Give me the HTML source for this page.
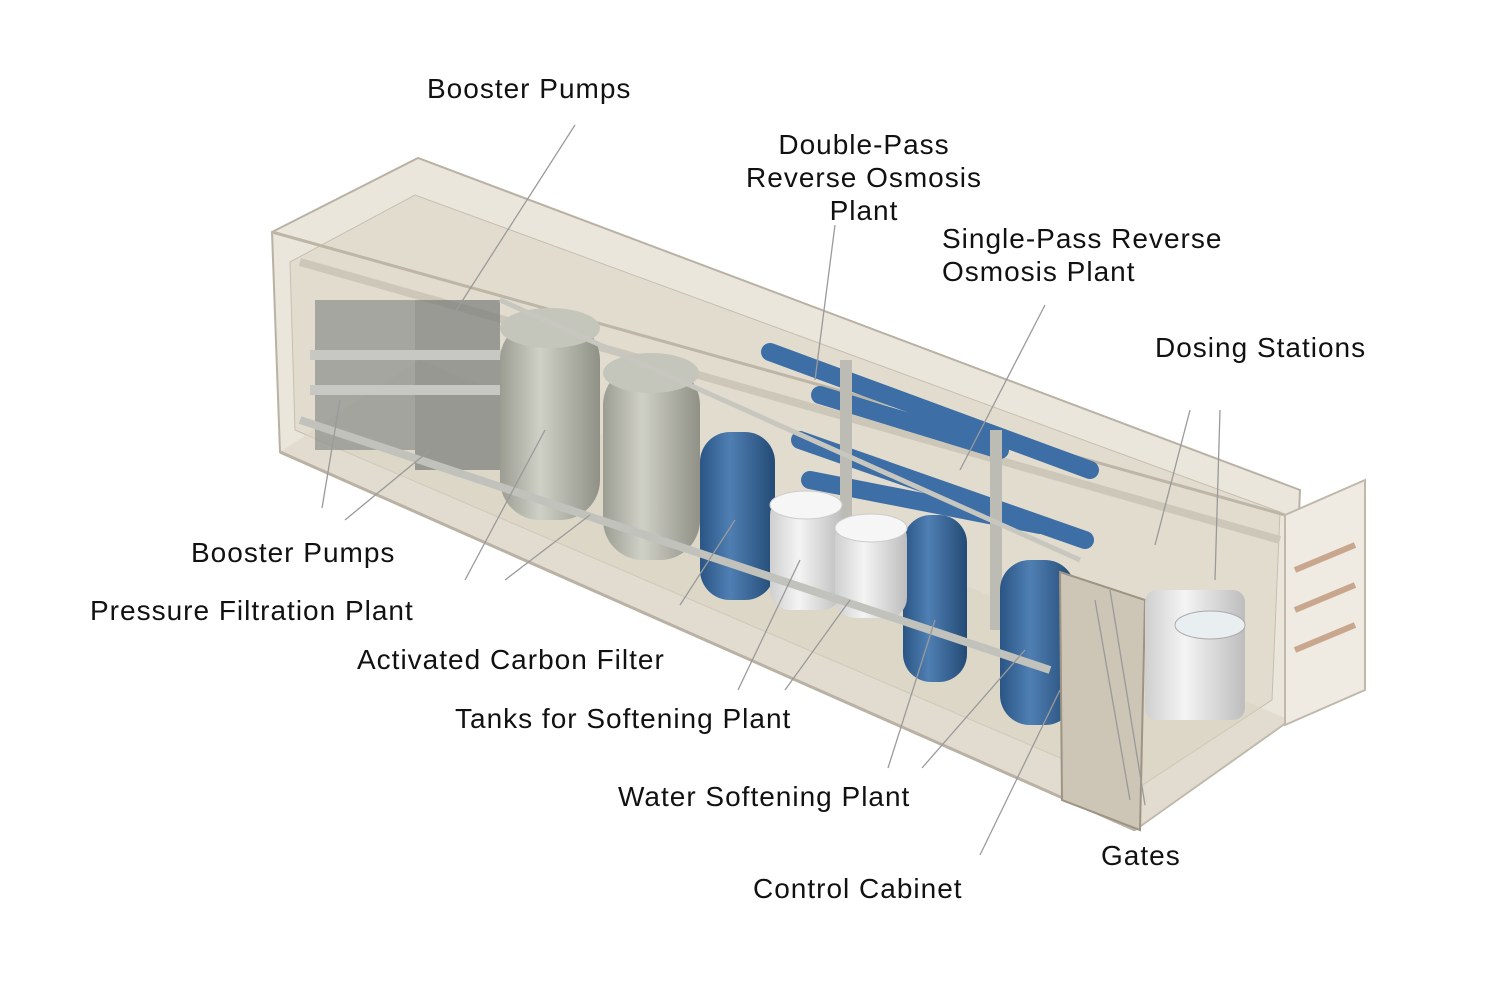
<!DOCTYPE html>
<html><head><meta charset="utf-8"><style>
html,body{margin:0;padding:0;background:#fff;}
body{width:1500px;height:1000px;overflow:hidden;position:relative;font-family:"Liberation Sans",sans-serif;}
.l{position:absolute;font-size:28px;letter-spacing:1px;color:#111;white-space:nowrap;line-height:33px;}
svg{position:absolute;left:0;top:0;}
</style></head><body>
<svg width="1500" height="1000" viewBox="0 0 1500 1000">
<defs>
<linearGradient id="gr" x1="0" x2="1"><stop offset="0" stop-color="#9c9d92"/><stop offset="0.4" stop-color="#cfd0c6"/><stop offset="1" stop-color="#8f9086"/></linearGradient>
<linearGradient id="bl" x1="0" x2="1"><stop offset="0" stop-color="#2a5585"/><stop offset="0.4" stop-color="#4f7fb3"/><stop offset="1" stop-color="#234a75"/></linearGradient>
<linearGradient id="wh" x1="0" x2="1"><stop offset="0" stop-color="#cfcfcf"/><stop offset="0.4" stop-color="#f4f4f4"/><stop offset="1" stop-color="#bdbdbd"/></linearGradient>
</defs>
<polygon points="272,232 418,158 1300,490 1290,720 1135,830 280,452" fill="#ebe6dc" stroke="#b9b2a4" stroke-width="2"/>
<polygon points="290,262 415,195 1280,512 1272,700 1135,790 295,430" fill="#e2dccf" stroke="#c6bfb0"/>
<polygon points="280,452 1135,830 1290,720 420,360" fill="#d8d1c2" opacity="0.5"/>
<line x1="272" y1="232" x2="1285" y2="515" stroke="#bdb6a7" stroke-width="3"/>
<line x1="300" y1="262" x2="1280" y2="540" stroke="#cdc7ba" stroke-width="8"/>
<line x1="280" y1="452" x2="1135" y2="830" stroke="#b9b2a4" stroke-width="3"/>
<rect x="315" y="300" width="100" height="150" fill="#8a8e8a" opacity="0.7"/>
<rect x="415" y="300" width="85" height="170" fill="#7a7e7b" opacity="0.7"/>
<rect x="310" y="350" width="200" height="10" fill="#c7c7c3"/>
<rect x="310" y="385" width="200" height="10" fill="#c7c7c3"/>
<rect x="500" y="320" width="100" height="200" rx="40" fill="url(#gr)"/>
<ellipse cx="550" cy="328" rx="50" ry="20" fill="#c4c5bb"/>
<rect x="603" y="365" width="97" height="195" rx="40" fill="url(#gr)"/>
<ellipse cx="651" cy="373" rx="48" ry="20" fill="#c4c5bb"/>
<g stroke="#3d6ea5" stroke-width="18" stroke-linecap="round">
<line x1="770" y1="352" x2="1090" y2="470"/>
<line x1="800" y1="440" x2="1085" y2="540"/>
<line x1="810" y1="480" x2="1040" y2="525"/>
<line x1="820" y1="395" x2="1000" y2="450"/>
</g>
<rect x="840" y="360" width="12" height="200" fill="#bcbcb5"/>
<rect x="990" y="430" width="12" height="200" fill="#bcbcb5"/>
<rect x="700" y="432" width="75" height="168" rx="30" fill="url(#bl)"/>
<rect x="903" y="515" width="64" height="167" rx="28" fill="url(#bl)"/>
<rect x="1000" y="560" width="75" height="165" rx="30" fill="url(#bl)"/>
<rect x="770" y="495" width="72" height="115" rx="20" fill="url(#wh)"/>
<ellipse cx="806" cy="505" rx="36" ry="14" fill="#f6f6f6" stroke="#ccc"/>
<rect x="835" y="518" width="72" height="100" rx="20" fill="url(#wh)"/>
<ellipse cx="871" cy="528" rx="36" ry="14" fill="#f6f6f6" stroke="#ccc"/>
<line x1="300" y1="420" x2="1050" y2="670" stroke="#c2c2bc" stroke-width="8"/>
<line x1="500" y1="300" x2="1080" y2="560" stroke="#c7c7c0" stroke-width="5"/>
<polygon points="1060,572 1145,600 1140,830 1062,800" fill="#cdc5b6" stroke="#9d9484" stroke-width="2"/>
<rect x="1145" y="590" width="100" height="130" rx="12" fill="url(#wh)"/>
<ellipse cx="1210" cy="625" rx="35" ry="14" fill="#e9eef0" stroke="#aaa"/>
<polygon points="1285,515 1365,480 1365,690 1285,725" fill="#efebe3" stroke="#c0b9ab" stroke-width="2"/>
<g stroke="#c9a78f" stroke-width="6"><line x1="1295" y1="570" x2="1355" y2="545"/><line x1="1295" y1="610" x2="1355" y2="585"/><line x1="1295" y1="650" x2="1355" y2="625"/></g>
<g stroke="#9a9a9a" stroke-width="1.3" fill="none">
<line x1="575" y1="125" x2="450" y2="320"/>
<line x1="835" y1="225" x2="815" y2="380"/>
<line x1="1045" y1="305" x2="960" y2="470"/>
<line x1="1190" y1="410" x2="1155" y2="545"/>
<line x1="1220" y1="410" x2="1215" y2="580"/>
<line x1="322" y1="508" x2="340" y2="400"/>
<line x1="345" y1="520" x2="430" y2="450"/>
<line x1="465" y1="580" x2="545" y2="430"/>
<line x1="505" y1="580" x2="590" y2="515"/>
<line x1="680" y1="605" x2="735" y2="520"/>
<line x1="738" y1="690" x2="800" y2="560"/>
<line x1="785" y1="690" x2="850" y2="600"/>
<line x1="888" y1="768" x2="935" y2="620"/>
<line x1="922" y1="768" x2="1025" y2="650"/>
<line x1="980" y1="855" x2="1060" y2="690"/>
<line x1="1130" y1="800" x2="1095" y2="600"/>
<line x1="1145" y1="805" x2="1110" y2="590"/>
</g>
</svg>
<div class="l" style="left:427px;top:72px">Booster Pumps</div>
<div class="l" style="left:734px;top:128px;text-align:center;width:260px">Double-Pass<br>Reverse Osmosis<br>Plant</div>
<div class="l" style="left:942px;top:222px">Single-Pass Reverse<br>Osmosis Plant</div>
<div class="l" style="left:1155px;top:331px">Dosing Stations</div>
<div class="l" style="left:191px;top:536px">Booster Pumps</div>
<div class="l" style="left:90px;top:594px">Pressure Filtration Plant</div>
<div class="l" style="left:357px;top:643px">Activated Carbon Filter</div>
<div class="l" style="left:455px;top:702px">Tanks for Softening Plant</div>
<div class="l" style="left:618px;top:780px">Water Softening Plant</div>
<div class="l" style="left:1101px;top:839px">Gates</div>
<div class="l" style="left:753px;top:872px">Control Cabinet</div>
</body></html>
